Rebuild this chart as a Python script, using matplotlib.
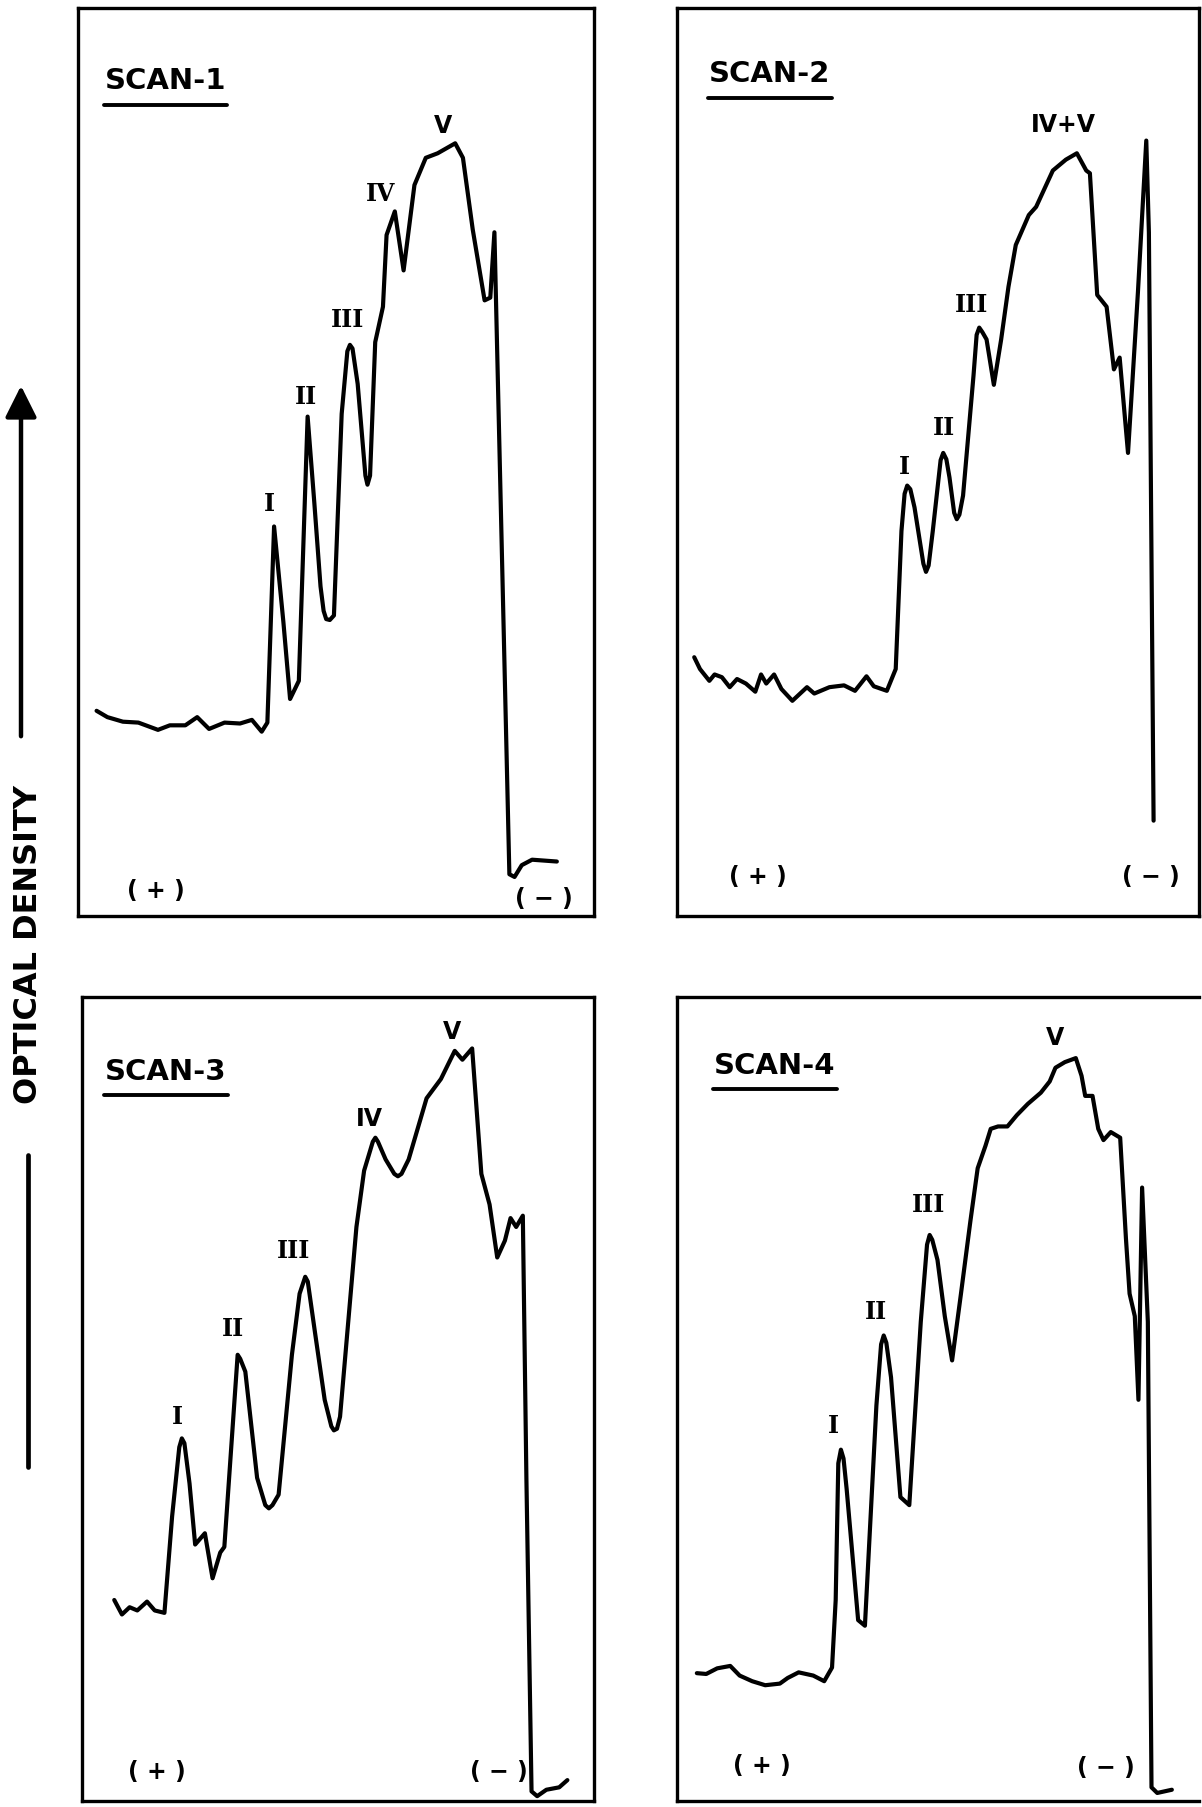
import matplotlib
matplotlib.use("Agg")
import matplotlib.pyplot as plt
from matplotlib.patches import FancyArrowPatch
from matplotlib.lines import Line2D

# ---------------- data (migration distance %, optical density %) ----------------
scan1_x = [3.6, 5.7, 8.7, 11.7, 15.5, 17.8, 20.8, 23.1, 25.4, 28.4, 31.4, 33.7, 35.6, 36.7,
           38.0, 39.8, 41.1, 42.8, 44.5, 45.8, 47.0, 47.6, 48.1, 48.8, 49.6, 51.1, 52.2, 52.7,
           53.2, 54.2, 55.7, 56.1, 56.6, 57.6, 59.1, 59.8, 61.4, 63.1, 65.2, 67.4, 69.7, 73.1,
           74.6, 76.5, 78.8, 79.9, 80.7, 83.6, 84.6, 86.0, 88.0, 92.8]
scan1_y = [22.6, 21.9, 21.4, 21.3, 20.5, 21.0, 21.0, 21.9, 20.6, 21.3, 21.2, 21.6, 20.3, 21.3,
           42.9, 32.4, 23.9, 25.9, 55.0, 45.5, 36.3, 33.6, 32.7, 32.6, 33.1, 55.3, 62.2, 62.9,
           62.5, 58.6, 48.5, 47.5, 48.5, 63.2, 67.1, 75.0, 77.6, 71.1, 80.5, 83.5, 84.0, 85.1,
           83.5, 75.6, 67.8, 68.1, 75.3, 4.6, 4.3, 5.6, 6.2, 6.0]
scan1_labels = ["I", "II", "III", "IV", "V"]
scan1_label_x = [37.1, 44.2, 52.3, 58.7, 70.8]
scan1_label_y = [45.5, 57.3, 65.8, 79.6, 87.1]

scan2_x = [3.3, 4.4, 6.2, 7.2, 8.6, 10.1, 11.5, 13.2, 15.0, 16.1, 17.1, 18.6, 20.0, 22.1, 24.9,
           26.3, 29.2, 32.0, 34.1, 36.3, 37.7, 40.2, 41.9, 43.0, 43.6, 44.1, 44.7, 45.5, 47.2,
           47.7, 48.2, 49.0, 50.5, 51.0, 51.6, 52.2, 53.1, 53.6, 54.1, 54.8, 56.8, 57.4, 57.9,
           58.5, 59.3, 60.7, 62.1, 63.5, 64.9, 67.4, 68.8, 72.0, 74.5, 76.6, 78.4, 79.1, 80.5,
           82.3, 83.7, 84.8, 86.4, 88.3, 89.9, 90.4, 91.3]
scan2_y = [28.5, 27.2, 25.9, 26.6, 26.3, 25.2, 26.1, 25.6, 24.7, 26.6, 25.6, 26.6, 25.0, 23.7, 25.2,
           24.5, 25.2, 25.4, 24.8, 26.4, 25.3, 24.8, 27.2, 42.4, 46.5, 47.4, 47.0, 45.0, 38.8,
           37.9, 38.6, 42.4, 50.2, 51.0, 50.3, 48.3, 44.4, 43.7, 44.2, 46.3, 59.5, 64.0, 64.8,
           64.3, 63.5, 58.5, 63.5, 69.3, 73.9, 77.2, 78.1, 82.1, 83.3, 84.0, 82.1, 81.8, 68.4,
           67.1, 60.2, 61.5, 51.0, 68.7, 85.4, 75.3, 10.5]
scan2_labels = ["I", "II", "III", "IV+V"]
scan2_label_x = [43.5, 51.1, 56.4, 74.1]
scan2_label_y = [49.6, 53.9, 67.4, 87.2]

scan3_x = [6.3, 7.8, 9.3, 10.8, 12.7, 14.2, 16.1, 17.6, 19.0, 19.5, 20.0, 21.0, 22.1, 24.0, 25.5,
           27.0, 27.8, 30.4, 30.9, 31.9, 34.2, 35.8, 36.5, 37.2, 38.4, 41.0, 42.5, 43.6, 44.1,
           45.5, 47.4, 48.7, 49.2, 49.8, 50.4, 53.6, 55.1, 56.8, 57.3, 57.8, 59.3, 61.0, 61.7,
           62.4, 63.8, 67.3, 70.1, 72.8, 74.3, 76.2, 78.0, 79.6, 81.1, 82.6, 83.7, 84.8, 86.1,
           86.8, 87.8, 88.9, 90.7, 93.2, 94.8]
scan3_y = [25.0, 23.2, 24.1, 23.7, 24.8, 23.7, 23.4, 35.4, 44.0, 45.1, 44.5, 39.5, 31.9, 33.3, 27.7,
           30.9, 31.6, 55.5, 55.0, 53.4, 40.2, 36.8, 36.4, 36.8, 38.1, 55.5, 63.1, 65.2, 64.6,
           58.3, 49.9, 46.6, 46.1, 46.3, 47.8, 71.4, 78.4, 82.0, 82.5, 82.0, 79.8, 78.0, 77.7,
           78.0, 79.8, 87.4, 89.8, 93.3, 92.2, 93.6, 78.0, 74.2, 67.6, 69.7, 72.5, 71.4, 72.8,
           40.0, 1.2, 0.6, 1.4, 1.7, 2.6]
scan3_labels = ["I", "II", "III", "IV", "V"]
scan3_label_x = [18.7, 29.5, 41.4, 56.2, 72.2]
scan3_label_y = [47.9, 58.8, 68.5, 85.0, 95.8]

scan4_x = [3.8, 5.6, 7.7, 10.2, 12.0, 14.4, 16.9, 19.7, 21.2, 23.3, 26.1, 28.2, 29.7, 30.4, 30.9,
           31.4, 31.9, 32.5, 34.7, 36.0, 38.2, 39.1, 39.6, 40.1, 41.0, 42.8, 44.5, 46.7, 47.9,
           48.4, 48.9, 49.9, 51.3, 52.7, 54.4, 56.2, 57.6, 59.1, 60.1, 61.5, 63.3, 65.1, 67.2,
           69.7, 71.4, 72.5, 74.3, 76.4, 77.5, 78.2, 79.6, 80.7, 81.7, 83.1, 84.9, 86.0, 86.7,
           87.7, 88.4, 89.1, 90.2, 90.9, 92.0, 94.8]
scan4_y = [15.9, 15.8, 16.5, 16.8, 15.6, 14.9, 14.4, 14.6, 15.3, 16.0, 15.6, 14.9, 16.6, 25.0, 42.0,
           43.7, 42.6, 38.8, 22.5, 21.8, 49.2, 56.8, 57.9, 57.0, 52.7, 37.8, 36.8, 59.6, 69.2,
           70.4, 69.8, 67.3, 60.3, 54.8, 63.1, 72.1, 78.7, 81.5, 83.6, 83.9, 83.9, 85.3, 86.7,
           88.1, 89.5, 91.2, 91.9, 92.4, 90.2, 87.7, 87.7, 83.6, 82.2, 83.2, 82.5, 70.0, 63.1,
           60.3, 49.9, 76.3, 59.6, 1.7, 1.0, 1.4]
scan4_labels = ["I", "II", "III", "V"]
scan4_label_x = [30.0, 38.2, 48.1, 72.5]
scan4_label_y = [46.8, 61.0, 74.2, 95.0]

scan_titles = ["SCAN-1", "SCAN-2", "SCAN-3", "SCAN-4"]
anode_label = "( + )"
cathode_label = "( \u2212 )"
y_axis_label = "OPTICAL DENSITY"

# ---------------- layout ----------------
W, H = 1202, 1808
fig = plt.figure(figsize=(W / 100, H / 100), dpi=100)
fig.patch.set_facecolor("white")

def frac_rect(l, t, r, b):
    return [l / W, 1 - b / H, (r - l) / W, (b - t) / H]

rects = [frac_rect(78, 9, 594, 917), frac_rect(677, 9, 1199, 917),
         frac_rect(82, 998, 594, 1802), frac_rect(677, 998, 1199, 1802)]
title_pos = [(0.052, 0.921), (0.062, 0.928), (0.045, 0.908), (0.071, 0.915)]
sign_pos = [((15.0, 2.9), (90.2, 2.0)), ((15.4, 4.4), (90.8, 4.4)),
            ((14.6, 3.7), (81.5, 3.7)), ((16.3, 4.5), (82.2, 4.2))]

traces = [(scan1_x, scan1_y, scan1_labels, scan1_label_x, scan1_label_y),
          (scan2_x, scan2_y, scan2_labels, scan2_label_x, scan2_label_y),
          (scan3_x, scan3_y, scan3_labels, scan3_label_x, scan3_label_y),
          (scan4_x, scan4_y, scan4_labels, scan4_label_x, scan4_label_y)]

serif_labels = {"I", "II", "III"}
title_texts = []
axes = []
for i, (rect, (xs, ys, labs, lx, ly)) in enumerate(zip(rects, traces)):
    ax = fig.add_axes(rect)
    axes.append(ax)
    ax.set_xlim(0, 100)
    ax.set_ylim(0, 100)
    ax.set_xticks([])
    ax.set_yticks([])
    for s in ax.spines.values():
        s.set_linewidth(2.4)
        s.set_color("black")
    if i == 3:
        ax.spines["right"].set_visible(False)
    ax.plot(xs, ys, color="black", lw=3.0, solid_joinstyle="round",
            solid_capstyle="round", clip_on=False)
    for s, x, y in zip(labs, lx, ly):
        if s in serif_labels or (i == 0 and s == "IV"):
            fam = "DejaVu Serif"
        else:
            fam = "DejaVu Sans"
        ax.text(x, y, s, ha="center", va="center", fontsize=17,
                fontweight="bold", family=fam)
    tx, ty = title_pos[i]
    t = ax.text(tx, ty, scan_titles[i], transform=ax.transAxes, ha="left",
                va="center", fontsize=21, fontweight="bold", family="DejaVu Sans")
    title_texts.append(t)
    (px, py), (mx, my) = sign_pos[i]
    ax.text(px, py, anode_label, ha="center", va="center", fontsize=17,
            fontweight="bold", family="DejaVu Sans")
    ax.text(mx, my, cathode_label, ha="center", va="center", fontsize=17,
            fontweight="bold", family="DejaVu Sans")

# underline the scan titles
fig.canvas.draw()
for ax, t in zip(axes, title_texts):
    bb = t.get_window_extent().transformed(ax.transAxes.inverted())
    ax.add_line(Line2D([bb.x0 - 0.002, bb.x1 + 0.002], [bb.y0 - 0.012, bb.y0 - 0.012],
                       transform=ax.transAxes, color="black", lw=2.8,
                       solid_capstyle="round"))

# y-axis label with arrow
fig.text(29 / W, 1 - 944 / H, y_axis_label, rotation=90, ha="center", va="center",
         fontsize=23, fontweight="bold", family="DejaVu Sans")
fig.add_artist(FancyArrowPatch((21 / W, 1 - 740 / H), (21 / W, 1 - 384 / H),
                               transform=fig.transFigure,
                               arrowstyle="-|>,head_length=12,head_width=6",
                               mutation_scale=1.6, lw=3.2, color="black"))
fig.add_artist(Line2D([28 / W, 28 / W], [1 - 1156 / H, 1 - 1468 / H],
                      transform=fig.transFigure, lw=3.4, color="black",
                      solid_capstyle="round"))

fig.savefig("out.png", dpi=100, facecolor="white")
